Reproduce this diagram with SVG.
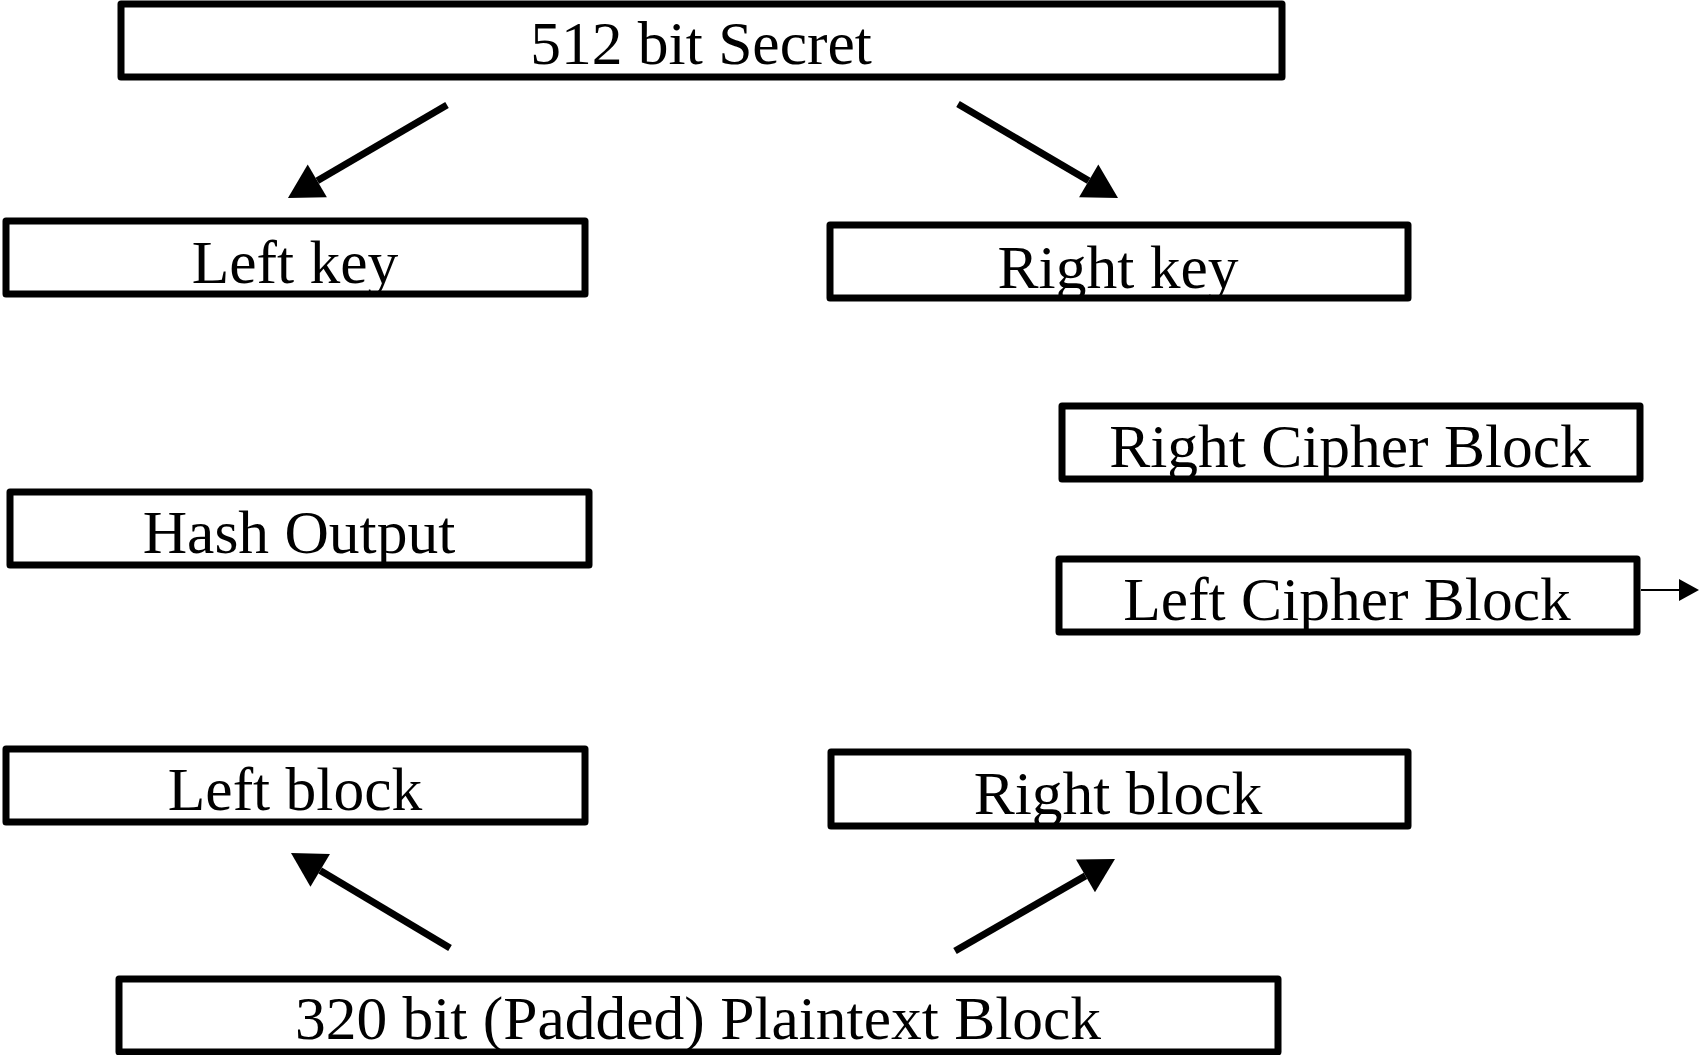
<svg xmlns="http://www.w3.org/2000/svg" width="1702" height="1055" viewBox="0 0 1702 1055">
<defs>
<style>
.box{fill:#fff;stroke:#000;stroke-width:7;stroke-linejoin:round}
.lbl{font-family:"Liberation Serif","Times New Roman",serif;font-size:61.5px;fill:#000;text-anchor:middle}
.conn{stroke:#000;stroke-width:7;fill:none}
.thin{stroke:#000;stroke-width:2;fill:none}
</style>
<marker id="ah" markerUnits="userSpaceOnUse" markerWidth="40" markerHeight="40" refX="0" refY="20" orient="auto" overflow="visible">
<path d="M0,1 L34,20 L0,39 z" fill="#000"/>
</marker>
<marker id="ahs" markerUnits="userSpaceOnUse" markerWidth="24" markerHeight="24" refX="0" refY="12" orient="auto" overflow="visible">
<path d="M0,1 L20,12 L0,23 z" fill="#000"/>
</marker>
</defs>
<rect width="1702" height="1055" fill="#fff"/>
<g id="secret"><rect class="box" x="121" y="4" width="1161" height="73"/><text class="lbl" x="701" y="64">512 bit Secret</text></g>
<g id="leftkey"><rect class="box" x="6" y="221" width="579" height="73"/><text class="lbl" x="295" y="283">Left key</text></g>
<g id="rightkey"><rect class="box" x="830" y="225" width="578" height="73"/><text class="lbl" x="1118" y="288">Right key</text></g>
<g id="rightcipher"><rect class="box" x="1062" y="406" width="578" height="73"/><text class="lbl" x="1350" y="467">Right Cipher Block</text></g>
<g id="hash"><rect class="box" x="10" y="492" width="579" height="73"/><text class="lbl" x="299" y="553">Hash Output</text></g>
<g id="leftcipher"><rect class="box" x="1059" y="559" width="578" height="73"/><text class="lbl" x="1347" y="620">Left Cipher Block</text></g>
<g id="leftblock"><rect class="box" x="6" y="749" width="579" height="73"/><text class="lbl" x="295" y="810">Left block</text></g>
<g id="rightblock"><rect class="box" x="831" y="752" width="577" height="74"/><text class="lbl" x="1118" y="814">Right block</text></g>
<g id="plaintext"><rect class="box" x="119" y="979" width="1159" height="73"/><text class="lbl" x="698" y="1039">320 bit (Padded) Plaintext Block</text></g>
<g id="connectors">
<line class="conn" x1="447" y1="105" x2="317.3" y2="180.8" marker-end="url(#ah)"/>
<line class="conn" x1="958" y1="104" x2="1088.7" y2="180.8" marker-end="url(#ah)"/>
<line class="conn" x1="450" y1="948" x2="320.2" y2="870.4" marker-end="url(#ah)"/>
<line class="conn" x1="955" y1="951" x2="1085.5" y2="875.9" marker-end="url(#ah)"/>
<line class="thin" x1="1641" y1="590" x2="1679" y2="590" marker-end="url(#ahs)"/>
</g>
</svg>
